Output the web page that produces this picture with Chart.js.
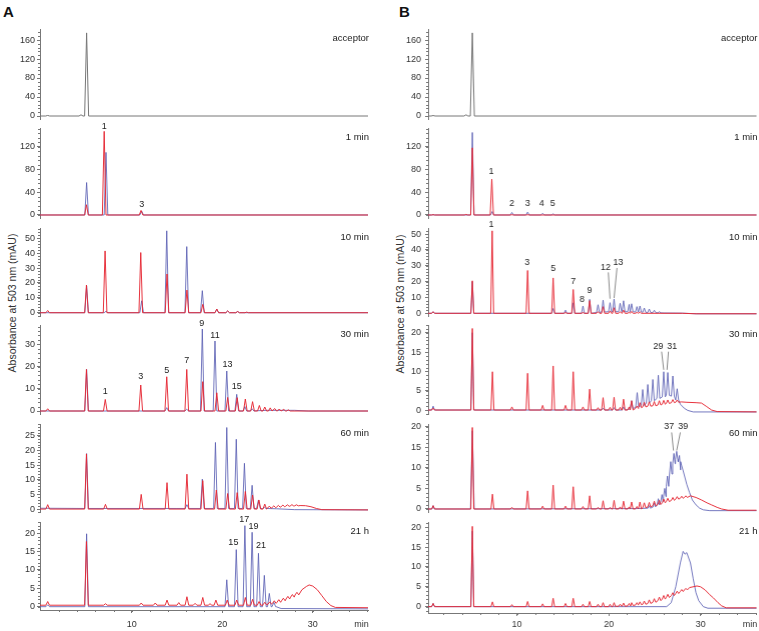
<!DOCTYPE html>
<html>
<head>
<meta charset="utf-8">
<script src="https://cdn.jsdelivr.net/npm/chart.js@4.4.1/dist/chart.umd.min.js"></script>
<style>
body { margin: 0; background: #fff; font-family: "Liberation Sans", Arial, sans-serif; }
#wrap { position: relative; width: 759px; height: 631px; overflow: hidden; background: #fff; }
.p { position: absolute; }
.lt { position: absolute; font-weight: bold; font-size: 15px; line-height: 15px; color: #111; }
.yt { position: absolute; font-size: 10.5px; color: #333; white-space: nowrap; transform: translate(-50%, -50%) rotate(-90deg); }
</style>
</head>
<body>
<div id="wrap">
  <div class="lt" style="left:3px;top:4px">A</div>
  <div class="lt" style="left:399px;top:4px">B</div>
  <div class="yt" style="left:12px;top:303px">Absorbance at 503 nm (mAU)</div>
  <div class="yt" style="left:400px;top:304px">Absorbance at 503 nm (mAU)</div>
</div>
<script>
// peaks are [time, apex, foot?, halfWidth?]; lines are [time, value] baseline / hump points

// ---- column A ----
const accA = [[0.72, 1.2], [4.4, 2.5], [5.02, 175]];
const a1Red = [[5.0, 18], [6.96, 147], [11.03, 8]];
const a1Blue = [[5.02, 57], [7.16, 110], [11.1, 7]];
const a10Red = [[0.72, 1.5], [5.0, 18.6], [7.06, 41.5], [11.0, 40.4], [13.9, 26], [16.1, 15.2], [17.85, 5.6], [19.4, 2.5], [20.6, 1.2], [21.7, 0.8], [22.7, 0.4]];
const a10Blue = [[5.02, 18], [7.16, 1], [11.1, 8], [13.87, 55], [16.08, 44.4], [17.8, 14.8], [19.4, 2.4], [20.6, 1.2], [21.7, 0.8]];
const a30Red = [[0.72, 1], [5.0, 18.7], [7.08, 5.2], [11.0, 11.7], [13.87, 15.4], [16.08, 18.7], [17.85, 13.2], [19.4, 8.2], [20.6, 6.1], [21.65, 6.0], [22.55, 5.4], [23.35, 4.2], [24.1, 2.5], [24.7, 1.8], [25.3, 1.4], [25.8, 1.1], [26.3, 0.9], [26.8, 0.7], [27.3, 0.5]];
const a30Blue = [[5.02, 18.7], [13.87, 1.5], [16.08, 0.8], [17.8, 36.9], [19.2, 31.5], [20.5, 18], [21.6, 7.5], [22.5, 2], [23.3, 1]];
const a30BlueLn = [[-1, 0], [23.7, 0.1], [25, 0.3], [28, 0.3], [29.5, 0], [37, 0]];
const a60Red = [[0.72, 1.5], [5.0, 18.8], [7.1, 1.6], [11.05, 5], [13.9, 9], [16.1, 11.9], [17.85, 9.7], [19.35, 6.5], [20.6, 5.3], [21.65, 5.6], [22.55, 6], [23.35, 4.8], [24.05, 3.1], [24.7, 1.7], [25.2, 1.0, 0.3], [25.7, 1.1, 0.5], [26.2, 1.25, 0.65], [26.7, 1.35, 0.8], [27.2, 1.45, 0.95], [27.7, 1.5, 1.05], [28.2, 1.45, 1.1]];
const a60RedLn = [[-1, 0], [28.6, 1.2], [29.2, 1.15], [29.8, 0.8], [30.4, 0.2], [31, -0.2], [37, -0.3]];
const a60Blue = [[5.02, 18.9], [16.1, 1.5], [17.8, 10.2], [19.25, 22.7], [20.5, 27.8], [21.55, 23.8], [22.45, 15.6], [23.3, 8.1], [24.0, 3.1], [24.65, 0.6]];
const a60BlueLn = [[-1, 0.3], [15, 0.2], [26, 0.1], [28, -0.2], [37, -0.3]];
const a21Red = [[0.72, 1.4], [5.0, 17.7], [7.1, 0.8], [11.05, 1.0], [12.6, 1.0], [13.9, 1.8], [15.2, 1.1], [16.1, 2.7], [17.0, 0.9], [17.85, 2.5], [18.65, 0.8], [19.3, 1.8], [20.55, 1.8], [21.6, 1.8], [22.55, 2.5], [23.35, 2.0], [24.07, 1.4], [24.7, 1.2, 0.5], [25.25, 1.3, 0.7], [25.75, 1.6, 0.9], [26.25, 1.9, 1.2], [26.75, 2.3, 1.6], [27.25, 2.8, 2.1], [27.75, 3.3, 2.6], [28.25, 3.9, 3.2]];
const a21RedLn = [[-1, 0.4], [24.4, 0.4], [28.8, 4.6], [29.3, 5.5], [29.6, 5.9], [30.0, 5.6], [30.5, 4.6], [31.0, 3.0], [31.5, 1.4], [32.0, 0.3], [32.5, -0.2], [37, -0.3]];
const a21Blue = [[0.72, 0.5], [5.02, 19.8], [20.5, 7.3], [21.55, 15.5], [22.5, 22.0], [23.3, 20.2], [24.0, 14.5], [24.65, 8.5], [25.2, 3.6], [25.7, 1.2]];
const a21BlueLn = [[-1, 0], [25.95, 0], [26.5, -0.5], [37, -0.6]];

// ---- column B ----
const accB = [[0.87, 1], [4.45, 2.5], [5.14, 175]];
const b1Red = [[0.87, 0.5], [4.45, 1], [5.14, 118], [7.26, 63], [9.45, 0.5], [11.16, 0.5]];
const b1Blue = [[0.87, 0.5], [5.14, 145], [7.3, 6], [9.45, 4.5], [11.16, 5], [12.8, 3], [13.94, 2]];
const b10Red = [[0.87, 1], [5.14, 20.5], [7.3, 52], [11.16, 27], [13.94, 22.3], [15.29, 0.5], [16.13, 15], [17.19, 0.5], [17.92, 8], [18.83, 1], [19.38, 4.2], [20.14, 1.5], [20.58, 3.5], [21.24, 1], [21.61, 2], [22.22, 0.8], [22.49, 1.2], [23.07, 0.6], [23.4, 0.8]];
const b10RedLn = [[-1, 0], [28, 0], [29.5, -0.3], [37, -0.3]];
const b10Blue = [[0.87, 1], [5.14, 20], [13.94, 3], [15.29, 2], [16.13, 6.6], [17.19, 4.6], [17.92, 8.8], [18.83, 5.4, 0.5], [19.38, 8.3, 0.8], [20.14, 6.7, 1], [20.58, 9, 1], [21.24, 6.3, 1], [21.61, 7.9, 1], [22.22, 5.6, 1], [22.49, 6, 1], [23.07, 4.2, 0.8], [23.4, 4.6, 0.8], [23.87, 3.3, 0.6], [24.41, 2.7, 0.5], [24.96, 1.9, 0.4], [25.51, 1.0, 0.3]];
const b10BlueLn = [[-1, 0], [26, 0.2], [28, 0.1], [29.5, -0.3], [37, -0.3]];
const b30Red = [[0.87, 0.5], [5.14, 21.1], [7.33, 9.9], [9.45, 0.8], [11.16, 9.5], [12.8, 1.2], [13.94, 11.4], [15.29, 1.2], [16.13, 9.9], [17.19, 0.8], [17.92, 5.4], [18.83, 0.6], [19.38, 3.2], [20.14, 0.7], [20.58, 3.3], [21.24, 0.7], [21.61, 2.8], [22.22, 0.8], [22.49, 2.4], [23.07, 1, 0.4], [23.4, 1.9, 0.6], [23.87, 2.0, 0.8], [24.41, 2.1, 1.0], [24.96, 2.2, 1.1], [25.51, 2.4, 1.3], [25.99, 2.5, 1.5], [26.43, 2.6, 1.7], [26.98, 2.7, 1.9], [27.45, 2.6, 2.0]];
const b30RedLn = [[-1, 0], [22.8, 0.2], [27.9, 2.1], [28.5, 2.0], [29.5, 1.9], [30.1, 1.8], [30.6, 1.0], [31.2, 0], [31.8, -0.4], [37, -0.5]];
const b30Blue = [[0.87, 1], [5.14, 20], [19.38, 0.5], [20.58, 0.6], [21.61, 0.8], [22.49, 2.4, 0.3], [23.1, 4.5, 0.8], [23.7, 5.3, 1.2], [24.25, 6.6, 1.8], [24.8, 7.9, 2.4], [25.4, 9.0, 3], [25.99, 9.9, 3.4], [26.43, 9.7, 3.8], [26.98, 8.8, 3.6], [27.45, 5.5, 2.6]];
const b30BlueLn = [[-1, 0], [22, 0.1], [27.8, 1.5], [28.2, 0.5], [28.6, -0.1], [29.2, -0.5], [37, -0.5]];
const b60Red = [[0.87, 0.8], [5.14, 19.8], [7.33, 3.6], [9.45, 0.4], [11.16, 4.4], [12.8, 0.7], [13.94, 5.8], [15.29, 0.7], [16.13, 5.4], [17.19, 0.6], [17.92, 3.2], [18.83, 0.4], [19.38, 2.0], [20.14, 0.4], [20.58, 2.1], [21.24, 0.5], [21.61, 1.9], [22.22, 0.5], [22.49, 1.7], [23.07, 0.6], [23.4, 1.7], [23.87, 1.5, 0.3], [24.41, 1.6, 0.5], [24.96, 1.9, 0.8], [25.51, 2.1, 1.1], [25.99, 2.4, 1.5], [26.43, 2.6, 1.8], [26.98, 2.8, 2.1], [27.45, 3.0, 2.4], [27.95, 3.1, 2.6], [28.4, 3.2, 2.8]];
const b60RedLn = [[-1, 0], [28.9, 3.2], [29.5, 2.8], [30.1, 2.2], [30.7, 1.5], [31.2, 1.0], [31.8, 0.4], [32.3, 0], [33, -0.3], [37, -0.3]];
const b60Blue = [[0.87, 0.8], [5.14, 19, 0, 0.2], [24.4, 0.8, 0.2], [24.96, 1.5, 0.5], [25.4, 2.5, 1], [25.8, 3.5, 1.8], [26.1, 5, 3], [26.4, 8, 5.5], [26.75, 11.5, 8.5], [27.1, 13.5, 11], [27.4, 14, 12], [27.7, 13, 11.5], [27.95, 10.5, 9.5]];
const b60BlueLn = [[-1, 0], [23, 0.1], [28.2, 8.5], [28.5, 6], [28.8, 4], [29.1, 2.2], [29.5, 1], [29.9, 0.2], [30.3, -0.2], [31, -0.4], [37, -0.4]];
const b21Red = [[0.87, 0.8], [5.14, 20.2], [7.33, 1.2], [9.45, 0.5], [11.16, 1.3], [12.8, 0.7], [13.94, 2.1], [15.29, 0.8], [16.13, 2.1], [17.19, 0.6], [17.92, 1.3], [18.83, 0.6], [19.38, 1.0], [20.14, 0.6], [20.58, 1.0], [21.24, 0.6, 0.1], [21.61, 0.9, 0.1], [22.22, 0.8, 0.2], [22.49, 1.0, 0.3], [23.07, 1.0, 0.4], [23.4, 1.2, 0.5], [23.87, 1.4, 0.6], [24.41, 1.7, 0.8], [24.96, 2.0, 1.1], [25.51, 2.4, 1.5], [25.99, 2.8, 1.9], [26.43, 3.1, 2.3], [26.98, 3.5, 2.8], [27.45, 3.9, 3.3], [27.95, 4.3, 3.8], [28.4, 4.6, 4.2]];
const b21RedLn = [[-1, 0], [20.8, 0.1], [28.8, 4.8], [29.6, 5.2], [30.0, 5.0], [30.5, 4.2], [31.0, 3.0], [31.4, 2.2], [31.9, 1.0], [32.3, 0.2], [32.8, -0.3], [37, -0.3]];
const b21Blue = [[0.87, 0.8], [5.14, 19]];
const b21BlueLn = [[-1, 0], [26.3, 0], [26.8, 1], [27.3, 5], [27.8, 11], [28.1, 13.9], [28.3, 13.2], [28.5, 13.6], [28.9, 11], [29.2, 7], [29.5, 3.5], [29.8, 1.5], [30.3, 0], [30.8, -0.4], [37, -0.4]];

// peak labels: [text, time, value, leader line?]
const a1Lab = [['1', 6.96, 156], ['3', 11.1, 18]];
const a30Lab = [['1', 7.08, 8.7], ['3', 11.0, 15.4], ['5', 13.87, 18.4], ['7', 16.08, 22.6], ['9', 17.75, 39.4], ['11', 19.2, 33.9], ['13', 20.57, 20.7], ['15', 21.6, 11.2]];
const a21Lab = [['15', 21.23, 17.3], ['17', 22.44, 23.8], ['19', 23.44, 21.8], ['21', 24.29, 16.5]];
const b1Lab = [['1', 7.2, 76], ['2', 9.45, 19.3], ['3', 11.16, 19.3], ['4', 12.7, 19.3], ['5', 13.9, 19.3]];
const b10Lab = [['1', 7.2, 55.7], ['3', 11.1, 31.9], ['5', 13.94, 28.4], ['7', 16.13, 20], ['8', 17.1, 8.4], ['9', 17.92, 14.3],
  ['12', 19.67, 29, [19.95, 25.8, 20.14, 9.2]], ['13', 21.02, 31.9, [20.9, 28.6, 20.58, 9.6]]];
const b30Lab = [['29', 25.4, 16.4, [25.76, 15.1, 25.99, 10.4]], ['31', 26.9, 16.4, [26.5, 15.1, 26.35, 10.4]]];
const b60Lab = [['37', 26.57, 20.1, [26.85, 18.6, 27.05, 14.2]], ['39', 28.1, 20.1, [27.8, 18.6, 27.4, 14.2]]];

// axis tick labels
const ticksBig = [0, 40, 80, 120, 160];
const ticks1 = [0, 40, 80, 120];
const ticks50 = [0, 10, 20, 30, 40, 50];
const ticks30 = [0, 10, 20, 30];
const ticks25 = [0, 5, 10, 15, 20, 25];
const ticks20 = [0, 5, 10, 15, 20];
const xTicks = [10, 20, 30];
const titles = ['acceptor', '1 min', '10 min', '30 min', '60 min', '21 h'];

const RED = 'rgba(230,40,52,0.95)', BLUE = 'rgba(92,96,180,0.85)', GRAY = '#767676';
const FONT = '"Liberation Sans", Arial, sans-serif';
const FLAT = [[-1, 0], [37, 0]];

const cols = {
  A: {left: 40, right: 368, xr: [-0.13, 36.1], tpad: 2, bottom: 610},
  B: {left: 428, right: 755.5, xr: [0.32, 36.1], tpad: 4, bottom: 613}
};
const rowsY = [[29, 119], [128, 218], [228, 316], [325, 414], [424, 512], [522, 610]];

function trace(peaks, line, w, foot) {
  const pts = (line || FLAT).map(([x, y]) => ({x, y}));
  peaks.forEach(([t, h, f = foot, pw = w]) => {
    pts.push({x: t - pw, y: f}, {x: t, y: h}, {x: t + pw, y: f});
  });
  return pts.sort((p, q) => p.x - q.x);
}

const annot = {
  id: 'annot',
  afterDraw(chart, args, o) {
    const {ctx, chartArea: a, scales: {x, y}} = chart;
    ctx.save();
    ctx.strokeStyle = '#777';
    ctx.lineWidth = 1;
    ctx.beginPath();
    for (let v = Math.ceil(y.min / o.minor) * o.minor; v <= y.max; v += o.minor) {
      const py = Math.round(y.getPixelForValue(v)) + 0.5;
      ctx.moveTo(a.left - 2, py);
      ctx.lineTo(a.left, py);
    }
    if (o.bottom) {
      for (let v = 2; v < x.max; v += 2) {
        const px = Math.round(x.getPixelForValue(v)) + 0.5;
        ctx.moveTo(px, a.bottom);
        ctx.lineTo(px, a.bottom + 2);
      }
    }
    ctx.stroke();

    ctx.fillStyle = '#222';
    ctx.font = '9.5px ' + FONT;
    ctx.textAlign = 'right';
    ctx.textBaseline = 'middle';
    ctx.fillText(o.title, a.right + 1, a.top + 9);

    ctx.textAlign = 'center';
    ctx.font = '9px ' + FONT;
    (o.labels || []).forEach(([s, t, v, lead]) => {
      ctx.fillText(s, x.getPixelForValue(t), y.getPixelForValue(v));
      if (lead) {
        ctx.strokeStyle = '#8a8a8a';
        ctx.beginPath();
        ctx.moveTo(x.getPixelForValue(lead[0]), y.getPixelForValue(lead[1]));
        ctx.lineTo(x.getPixelForValue(lead[2]), y.getPixelForValue(lead[3]));
        ctx.stroke();
      }
    });
    if (o.bottom) {
      ctx.fillStyle = '#333';
      ctx.fillText('min', a.right - 6.5, 625 - o.pageBottom + a.bottom);
    }
    ctx.restore();
  }
};

const panels = [
  {col: 'A', row: 0, y: [-6.3, 183.2], ticks: ticksBig, minor: 8, sets: [[accA, null, GRAY, 0.22]]},
  {col: 'A', row: 1, y: [-5.3, 152.9], ticks: ticks1, minor: 8, labels: a1Lab,
    sets: [[a1Red, null, RED], [a1Blue, null, BLUE]]},
  {col: 'A', row: 2, y: [-2.2, 56.9], ticks: ticks50, minor: 2,
    sets: [[a10Red, null, RED], [a10Blue, null, BLUE]]},
  {col: 'A', row: 3, y: [-1.35, 38.7], ticks: ticks30, minor: 2, labels: a30Lab,
    sets: [[a30Red, null, RED], [a30Blue, a30BlueLn, BLUE]]},
  {col: 'A', row: 4, y: [-1.0, 29.0], ticks: ticks25, minor: 1,
    sets: [[a60Red, a60RedLn, RED], [a60Blue, a60BlueLn, BLUE, 0.2, 0.2]]},
  {col: 'A', row: 5, y: [-0.9, 23.0], ticks: ticks20, minor: 1, labels: a21Lab,
    sets: [[a21Red, a21RedLn, RED, 0.2, 0.4], [a21Blue, a21BlueLn, BLUE]]},
  {col: 'B', row: 0, y: [-6.3, 183.2], ticks: ticksBig, minor: 8, sets: [[accB, null, GRAY, 0.22]]},
  {col: 'B', row: 1, y: [-5.3, 152.9], ticks: ticks1, minor: 8, labels: b1Lab,
    sets: [[b1Red, null, RED, 0.18], [b1Blue, null, BLUE, 0.18]]},
  {col: 'B', row: 2, y: [-1.7, 53.8], ticks: ticks50, minor: 2, labels: b10Lab,
    sets: [[b10Red, b10RedLn, RED, 0.16], [b10Blue, b10BlueLn, BLUE, 0.16]]},
  {col: 'B', row: 3, y: [-1.03, 22.0], ticks: ticks20, minor: 1, labels: b30Lab,
    sets: [[b30Red, b30RedLn, RED, 0.16], [b30Blue, b30BlueLn, BLUE, 0.16]]},
  {col: 'B', row: 4, y: [-0.73, 20.65], ticks: ticks20, minor: 1, labels: b60Lab,
    sets: [[b60Red, b60RedLn, RED, 0.16], [b60Blue, b60BlueLn, BLUE, 0.13]]},
  {col: 'B', row: 5, y: [-1.6, 21.3], ticks: ticks20, minor: 1,
    sets: [[b21Red, b21RedLn, RED, 0.16], [b21Blue, b21BlueLn, BLUE, 0.16]]}
];

const wrap = document.getElementById('wrap');

panels.forEach(p => {
  const c = cols[p.col];
  const bottom = p.row === 5;
  const top = rowsY[p.row][0];
  const bot = bottom ? c.bottom : rowsY[p.row][1];
  const padT = 12, axisH = bottom ? 20 : 0, padB = bottom ? 1 : 3;

  const div = document.createElement('div');
  div.className = 'p';
  div.style.left = (c.left - 40) + 'px';
  div.style.top = (top - padT) + 'px';
  div.style.width = (c.right - c.left + 44) + 'px';
  div.style.height = (bot - top + padT + axisH + padB) + 'px';
  const cv = document.createElement('canvas');
  div.appendChild(cv);
  wrap.appendChild(div);

  const datasets = p.sets.map(([pk, ln, col, w = 0.2, foot = 0]) => ({
    data: trace(pk, ln, w, foot),
    borderColor: col,
    borderWidth: 1,
    pointRadius: 0,
    tension: 0,
    fill: false
  }));

  new Chart(cv, {
    type: 'line',
    data: {datasets},
    options: {
      responsive: true,
      maintainAspectRatio: false,
      animation: false,
      events: [],
      layout: {padding: {top: padT, right: 4, bottom: padB, left: 0}},
      plugins: {
        legend: {display: false},
        tooltip: {enabled: false},
        annot: {title: titles[p.row], labels: p.labels, minor: p.minor, bottom, pageBottom: bot}
      },
      scales: {
        x: {
          type: 'linear',
          display: bottom,
          min: c.xr[0],
          max: c.xr[1],
          afterBuildTicks: s => { s.ticks = xTicks.map(v => ({value: v})); },
          afterFit: s => { s.height = bottom ? 20 : 0; s.paddingLeft = 0; s.paddingRight = 0; },
          ticks: {font: {family: FONT, size: 9}, color: '#333', padding: bottom && p.col === 'B' ? 3 : 6, maxRotation: 0},
          grid: {drawOnChartArea: false, tickLength: 3, tickColor: '#777'},
          border: {color: '#777'}
        },
        y: {
          type: 'linear',
          min: p.y[0],
          max: p.y[1],
          afterBuildTicks: s => { s.ticks = p.ticks.map(v => ({value: v})); },
          afterFit: s => { s.width = 40; s.paddingTop = 0; s.paddingBottom = 0; },
          ticks: {font: {family: FONT, size: 9}, color: '#333', padding: c.tpad},
          grid: {drawOnChartArea: false, tickLength: 3, tickColor: '#777'},
          border: {color: '#777'}
        }
      }
    },
    plugins: [annot]
  });
});
</script>
</body>
</html>
